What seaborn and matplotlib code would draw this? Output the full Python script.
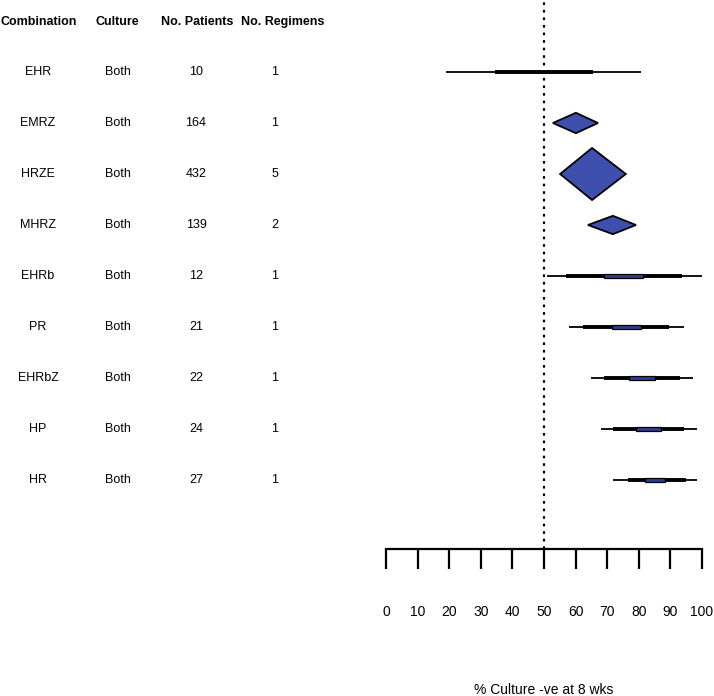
import numpy as np
import matplotlib
matplotlib.use("Agg")
import matplotlib.pyplot as plt
import matplotlib.transforms as mtransforms
import seaborn as sns

# Table columns
combinations = ['EHR', 'EMRZ', 'HRZE', 'MHRZ', 'EHRb', 'PR', 'EHRbZ', 'HP', 'HR']
culture = ['Both'] * 9
n_patients = [10, 164, 432, 139, 12, 21, 22, 24, 27]
n_regimens = [1, 1, 5, 2, 1, 1, 1, 1, 1]

# Forest values (% culture negative at 8 weeks)
estimate = [50.0, 60.1, 65.2, 71.8, 75.3, 76.1, 81.0, 83.0, 85.1]
# outer interval (thin line) / inner interval (thick bar or diamond width)
outer_lo = [19.0, 52.8, 55.1, 63.9, 51.0, 57.9, 64.9, 68.0, 71.8]
outer_hi = [80.7, 67.1, 75.9, 79.1, 100.3, 94.3, 97.2, 98.4, 98.4]
inner_lo = [34.5, 52.8, 55.1, 63.9, 57.0, 62.3, 69.0, 71.8, 76.5]
inner_hi = [65.5, 67.1, 75.9, 79.1, 93.7, 89.6, 93.0, 94.3, 95.0]
# central box for single-regimen rows (nan = none)
box_lo = [np.nan, np.nan, np.nan, np.nan, 69.0, 71.5, 76.9, 79.1, 82.0]
box_hi = [np.nan, np.nan, np.nan, np.nan, 81.3, 80.7, 85.1, 87.0, 88.3]
# pooled rows are drawn as diamonds; half height as fraction of row spacing
pooled = [False, True, True, True, False, False, False, False, False]
diamond_half = [0, 0.20, 0.51, 0.18, 0, 0, 0, 0, 0]

x_ticks = list(range(0, 101, 10))
ref_value = 50

sns.set_theme(style="white")
plt.rcParams['font.family'] = ['Liberation Sans', 'DejaVu Sans']
plt.rcParams['text.color'] = 'black'
plt.rcParams['axes.labelcolor'] = 'black'
plt.rcParams['xtick.color'] = 'black'

fig = plt.figure(figsize=(7.14, 6.96), dpi=100)
W, H = 714, 696
ax = fig.add_axes([386 / W, (H - 549) / H, (702 - 386) / W, 549 / H])

rows = np.arange(len(combinations))
ax.set_xlim(0, 100)
ax.set_ylim((549 - 72) / 51, -72 / 51)

fill_color = '#3F4FAE'
box_h = 0.03
for r in rows:
    if pooled[r]:
        h = diamond_half[r]
        xs = [inner_lo[r], estimate[r], inner_hi[r], estimate[r]]
        ys = [r, r - h, r, r + h]
        ax.fill(xs, ys, facecolor=fill_color, edgecolor='black', lw=1.3, zorder=3)
        continue
    ax.plot([outer_lo[r], outer_hi[r]], [r, r], color='black', lw=1.3,
            solid_capstyle='butt', zorder=2)
    ax.plot([inner_lo[r], inner_hi[r]], [r, r], color='black', lw=2.8,
            solid_capstyle='butt', zorder=2)
    if not np.isnan(box_lo[r]):
        xs = [box_lo[r], box_hi[r], box_hi[r], box_lo[r]]
        ys = [r - box_h, r - box_h, r + box_h, r + box_h]
        ax.fill(xs, ys, facecolor='#2E3C8C', edgecolor='black', lw=0.9, zorder=3)

ax.axvline(ref_value, color='black', lw=1.6, linestyle=(0, (1.2, 2.2)), zorder=1)

sns.despine(ax=ax, left=True, top=True, right=True)
ax.spines['bottom'].set_linewidth(1.6)
ax.spines['bottom'].set_color('black')
ax.set_yticks([])
ax.set_xticks(x_ticks)
ax.tick_params(axis='x', direction='out', length=14.4, width=1.6, color='black',
               pad=26, labelsize=10, labelcolor='black', bottom=True)
ax.set_xlabel('% Culture -ve at 8 wks', fontsize=10, labelpad=46)
ax.grid(False)

# Table on the left
trans = mtransforms.blended_transform_factory(fig.transFigure, ax.transData)
header_y = -0.98
headers = [('Combination', 39), ('Culture', 117), ('No. Patients', 197), ('No. Regimens', 283)]
for text, px in headers:
    ax.text(px / W, header_y, text, transform=trans, ha='center', va='center',
            fontsize=9, fontweight='bold', color='black', clip_on=False)

col_x = [38, 118, 196, 275]
for r in rows:
    vals = [combinations[r], culture[r], str(n_patients[r]), str(n_regimens[r])]
    for v, px in zip(vals, col_x):
        ax.text(px / W, r, v, transform=trans, ha='center', va='center',
                fontsize=9, color='black', clip_on=False)

fig.savefig('out.png', dpi=100)
